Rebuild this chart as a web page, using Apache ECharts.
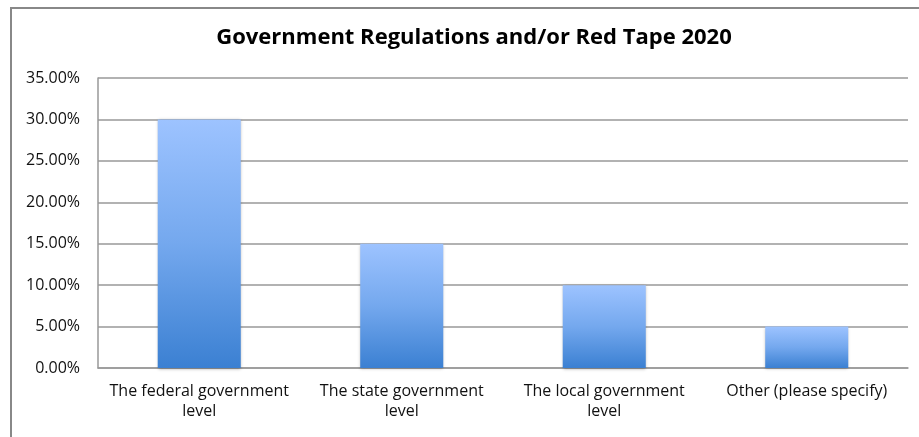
<!DOCTYPE html>
<html>
<head>
<meta charset="utf-8">
<script src="https://cdn.jsdelivr.net/npm/echarts@6/dist/echarts.min.js"></script>
<style>html,body{margin:0;padding:0;background:#fff;}#c{width:919px;height:437px;}</style>
</head>
<body>
<div id="c"></div>
<script>
const categories = ['The federal government\nlevel', 'The state government\nlevel', 'The local government\nlevel', 'Other (please specify)'];
const values = [0.30, 0.15, 0.10, 0.05];
const titleText = 'Government Regulations and/or Red Tape 2020';

const chart = echarts.init(document.getElementById('c'));
chart.setOption({
  animation: false,
  title: {
    text: titleText,
    left: 469, top: 22, textAlign: 'center',
    textStyle: { fontFamily: 'Open Sans', fontWeight: 'bold', fontSize: 22, color: '#000' }
  },
  graphic: [{
    type: 'rect', shape: { x: 11, y: 8, width: 1000, height: 1000 },
    style: { fill: 'none', stroke: '#888', lineWidth: 2 }, z: 100
  }],
  grid: { left: 98, right: 11, top: 78, bottom: 69 },
  xAxis: {
    type: 'category', data: categories,
    axisLine: { lineStyle: { color: '#999', width: 1.5 } },
    axisTick: { show: false },
    axisLabel: { fontFamily: 'Open Sans', fontSize: 16, color: '#111', margin: 13, lineHeight: 20, interval: 0 }
  },
  yAxis: {
    type: 'value', min: 0, max: 0.35, interval: 0.05,
    axisLine: { show: true, lineStyle: { color: '#999', width: 1.5 } },
    axisTick: { show: false },
    splitLine: { lineStyle: { color: '#999', width: 1.5 } },
    axisLabel: { fontFamily: 'Open Sans', fontSize: 16, color: '#111', margin: 18,
      formatter: v => (v * 100).toFixed(2) + '%' }
  },
  series: [{
    type: 'bar', data: values, barWidth: '41%',
    itemStyle: {
      color: new echarts.graphic.LinearGradient(0, 0, 0, 1, [
        { offset: 0, color: '#9DC3FF' },
        { offset: 0.5, color: '#74A8EE' },
        { offset: 1, color: '#3B80D2' }
      ]),
      shadowBlur: 3, shadowColor: 'rgba(0,0,0,0.3)', shadowOffsetY: 1
    }
  }]
});
</script>
</body>
</html>
